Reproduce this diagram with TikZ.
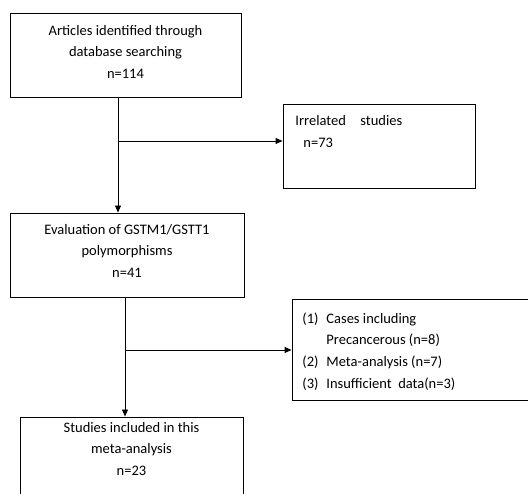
\documentclass[tikz,border=0pt]{standalone}
\usepackage{fontspec}
\setmainfont{Carlito}
\usetikzlibrary{arrows.meta,positioning}

\begin{document}
\begin{tikzpicture}[x=1pt, y=-1pt, line width=0.9pt,
	>={Triangle[length=7pt,width=6pt]},
	every node/.style={font=\fontsize{14.5}{21.7}\selectfont},
	box node/.style={draw, rectangle, inner sep=0pt},
	text node/.style={inner sep=0pt, align=center}]
	
	\useasboundingbox (0,0) rectangle (528,494);
	
	% boxes
	\node[box node, minimum width=231pt, minimum height=84pt] (1) at (125.5,55) {};
	\node[box node, minimum width=192pt, minimum height=84pt] (2) at (379,146) {};
	\node[box node, minimum width=234pt, minimum height=84pt] (3) at (127,255) {};
	\node[box node, minimum width=240pt, minimum height=101pt] (4) at (412,349.5) {};
	\node[box node, minimum width=223pt, minimum height=86pt] (5) at (131.5,460) {};
	
	% texts
	\node[text node, below=12pt of 1.north] (1t) {Articles identified through\\database searching\\n=114};
	\node[text node, align=left, anchor=north west] (2t) at (295,115) {Irrelated\hspace{1em}studies\\\hspace{8pt}n=73};
	\node[text node, below=11pt of 3.north] (3t) {Evaluation of GSTM1/GSTT1\\polymorphisms\\n=41};
	\node[text node, align=left, anchor=north west] (4t) at (302,312) {\makebox[24pt][l]{(1)}Cases including\\\hspace{24pt}Precancerous (n=8)\\\makebox[24pt][l]{(2)}Meta-analysis (n=7)\\\makebox[24pt][l]{(3)}Insufficient\ \ data(n=3)};
	\node[text node, below=5pt of 5.north] (5t) {Studies included in this\\meta-analysis\\n=23};
	
	% connectors
	\coordinate (j1) at (118,141);
	\coordinate (j2) at (125,350);
	\draw[->] (j1 |- 1.south) -- (j1 |- 3.north);
	\draw[->] (j1) -- (j1 -| 2.west);
	\draw[->] (j2 |- 3.south) -- (j2 |- 5.north);
	\draw[->] (j2) -- (j2 -| 4.west);
\end{tikzpicture}
\end{document}
